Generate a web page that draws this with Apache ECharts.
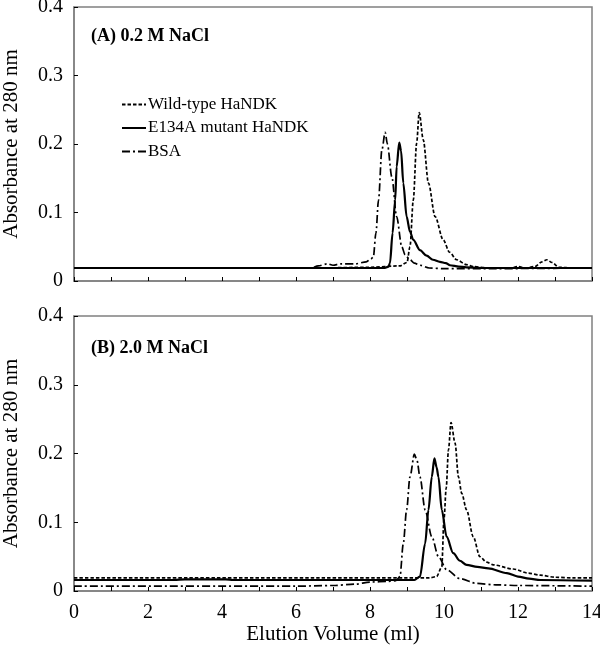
<!DOCTYPE html>
<html><head><meta charset="utf-8">
<script src="https://cdn.jsdelivr.net/npm/echarts@6/dist/echarts.min.js"></script>
<style>html,body{margin:0;padding:0;background:#fff}#c{width:600px;height:647px}</style>
</head><body><div id="c"></div>
<script>
// ---- Data (elution volume ml, absorbance at 280 nm) ----
const seriesNames = ['Wild-type HaNDK', 'E134A mutant HaNDK', 'BSA'];
const panelTitles = ['(A) 0.2 M NaCl', '(B) 2.0 M NaCl'];
const xTicks = [0, 2, 4, 6, 8, 10, 12, 14];
const yTicks = [0, 0.1, 0.2, 0.3, 0.4];

// Panel A: 0.2 M NaCl
const aWild = [[0,0.019],[6.5,0.019],[8.0,0.020],[8.8,0.022],[9.0,0.027],[9.08,0.05],[9.17,0.118],[9.26,0.201],[9.33,0.246],[9.44,0.206],[9.58,0.143],[9.76,0.094],[9.98,0.06],[10.15,0.042],[10.34,0.031],[10.6,0.024],[10.8,0.021],[11.2,0.019],[11.8,0.019],[12.0,0.021],[12.2,0.019],[12.45,0.021],[12.65,0.028],[12.78,0.031],[12.92,0.027],[13.1,0.020],[13.5,0.019],[14,0.019]];
const aMut = [[0,0.019],[8.4,0.019],[8.5,0.021],[8.54,0.026],[8.61,0.07],[8.68,0.118],[8.72,0.167],[8.79,0.202],[8.84,0.19],[8.9,0.143],[8.99,0.094],[9.08,0.072],[9.17,0.06],[9.35,0.045],[9.53,0.037],[9.7,0.031],[9.89,0.028],[10.05,0.026],[10.16,0.023],[10.4,0.021],[10.6,0.020],[11,0.019],[14,0.019]];
const aBsa = [[0,0.019],[6.4,0.019],[6.6,0.022],[6.85,0.025],[7.0,0.023],[7.2,0.025],[7.6,0.025],[7.9,0.028],[8.02,0.032],[8.09,0.035],[8.16,0.07],[8.23,0.118],[8.32,0.191],[8.41,0.217],[8.47,0.2],[8.59,0.152],[8.72,0.094],[8.86,0.05],[8.95,0.038],[9.08,0.031],[9.2,0.026],[9.35,0.023],[9.6,0.019],[10.0,0.018],[11,0.018],[14,0.019]];

// Panel B: 2.0 M NaCl
const bWild = [[0,0.019],[9.6,0.019],[9.8,0.021],[9.94,0.035],[10.0,0.105],[10.06,0.15],[10.12,0.205],[10.19,0.245],[10.3,0.215],[10.39,0.166],[10.48,0.142],[10.61,0.118],[10.79,0.079],[10.97,0.05],[11.15,0.042],[11.33,0.038],[11.87,0.032],[12.28,0.026],[12.6,0.023],[13.0,0.020],[13.5,0.019],[14,0.019]];
const bMut = [[0,0.016],[2.7,0.016],[3.0,0.017],[4.1,0.017],[4.3,0.016],[9.2,0.016],[9.35,0.021],[9.49,0.069],[9.58,0.118],[9.67,0.166],[9.74,0.193],[9.8,0.18],[9.85,0.166],[9.94,0.118],[10.07,0.079],[10.25,0.055],[10.43,0.044],[10.61,0.038],[10.9,0.035],[11.2,0.033],[11.7,0.026],[12.0,0.021],[12.3,0.018],[12.6,0.016],[14,0.015]];
const bBsa = [[0,0.007],[6,0.007],[7.0,0.008],[7.6,0.010],[8.0,0.013],[8.5,0.014],[8.7,0.015],[8.81,0.021],[8.9,0.069],[8.99,0.118],[9.08,0.166],[9.2,0.199],[9.27,0.19],[9.35,0.166],[9.49,0.118],[9.67,0.079],[9.85,0.05],[10.07,0.031],[10.43,0.018],[10.88,0.011],[11.4,0.009],[12,0.008],[14,0.007]];

const FONT = '"Liberation Serif", "Times New Roman", serif';
const GRAY = '#808080';
const styles = [
  {type: [3.5, 2], width: 1.7},
  {type: 'solid', width: 2.2},
  {type: [8, 3, 2, 3], width: 1.7}
];

function xAxis(idx, showLabels) {
  return {
    type: 'value', gridIndex: idx, min: 0, max: 14, interval: 1,
    axisLine: {show: true, lineStyle: {color: GRAY, width: 1.5}},
    axisTick: {show: true, inside: true, length: 4, lineStyle: {color: '#000'}},
    axisLabel: {show: showLabels, margin: 12, color: '#000', fontFamily: FONT, fontSize: 20,
      formatter: v => (xTicks.indexOf(v) >= 0 ? String(v) : '')},
    splitLine: {show: false},
    name: showLabels ? 'Elution Volume (ml)' : '', nameLocation: 'middle', nameGap: 31,
    nameTextStyle: {color: '#000', fontFamily: FONT, fontSize: 21}
  };
}
function yAxis(idx) {
  return {
    type: 'value', gridIndex: idx, min: 0, max: 0.4, interval: 0.1,
    axisLine: {show: true, lineStyle: {color: GRAY, width: 1.5}},
    axisTick: {show: true, inside: true, length: 4, lineStyle: {color: '#000'}},
    axisLabel: {margin: 11, color: '#000', fontFamily: FONT, fontSize: 20,
      formatter: v => (Math.abs(v) < 1e-9 ? '0' : v.toFixed(1))},
    splitLine: {show: false},
    name: 'Absorbance at 280 nm', nameLocation: 'middle', nameGap: 52,
    nameTextStyle: {color: '#000', fontFamily: FONT, fontSize: 21}
  };
}
function mk(name, data, i, g) {
  return {
    name: name, type: 'line', xAxisIndex: g, yAxisIndex: g, data: data,
    showSymbol: false, symbol: 'none', smooth: 0.3, smoothMonotone: 'x',
    lineStyle: {color: '#000', width: styles[i].width, type: styles[i].type},
    itemStyle: {color: '#000'}, animation: false
  };
}
const chart = echarts.init(document.getElementById('c'));
chart.setOption({
  animation: false,
  backgroundColor: '#fff',
  title: [
    {text: panelTitles[0], left: 86, top: 22, textStyle: {fontFamily: FONT, fontSize: 18, fontWeight: 'bold', color: '#000'}},
    {text: panelTitles[1], left: 86, top: 334, textStyle: {fontFamily: FONT, fontSize: 18, fontWeight: 'bold', color: '#000'}}
  ],
  legend: {
    data: seriesNames, orient: 'vertical', left: 121, top: 96, padding: 0,
    itemWidth: 24, itemHeight: 14, itemGap: 6.5,
    itemStyle: {opacity: 0},
    textStyle: {fontFamily: FONT, fontSize: 17, color: '#000', padding: [0,0,0,-3]},
    selectedMode: false
  },
  grid: [
    {left: 74, right: 8, top: 7, height: 274, show: true, borderColor: GRAY, borderWidth: 1.5, outerBoundsMode: 'none', containLabel: false},
    {left: 74, right: 8, top: 316, height: 275, show: true, borderColor: GRAY, borderWidth: 1.5, outerBoundsMode: 'none', containLabel: false}
  ],
  xAxis: [xAxis(0, false), xAxis(1, true)],
  yAxis: [yAxis(0), yAxis(1)],
  series: [
    mk(seriesNames[0], aWild, 0, 0), mk(seriesNames[1], aMut, 1, 0), mk(seriesNames[2], aBsa, 2, 0),
    mk(seriesNames[0], bWild, 0, 1), mk(seriesNames[1], bMut, 1, 1), mk(seriesNames[2], bBsa, 2, 1)
  ]
});
</script></body></html>
